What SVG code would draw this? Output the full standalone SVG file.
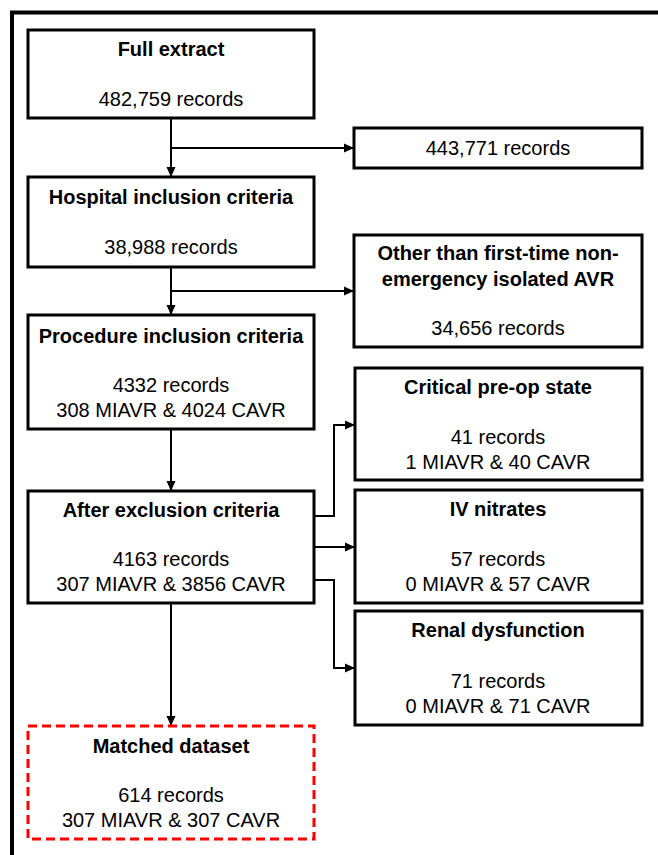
<svg xmlns="http://www.w3.org/2000/svg" width="658" height="855" viewBox="0 0 658 855">
<defs>
<style>
.box{fill:#fff;stroke:#000;stroke-width:3}
.dbox{fill:#fff;stroke:#ff0000;stroke-width:3;stroke-dasharray:9 5}
.t{font-family:"Liberation Sans",Arial,sans-serif;font-size:20px;font-weight:bold;text-anchor:middle;fill:#000}
.r{font-family:"Liberation Sans",Arial,sans-serif;font-size:20px;text-anchor:middle;fill:#000}
.c{fill:none;stroke:#000;stroke-width:2}
</style>
<marker id="ah" viewBox="0 0 10 10" refX="10" refY="5" markerWidth="10" markerHeight="10" markerUnits="userSpaceOnUse" orient="auto">
<path d="M0,0.5 L10,5 L0,9.5 Z" fill="#000"/>
</marker>
</defs>
<rect width="658" height="855" fill="#fff"/>
<path d="M12,855 V12.5 H658" fill="none" stroke="#000" stroke-width="4"/>
<g id="connectors">
<path class="c" d="M171,118 V177" marker-end="url(#ah)"/>
<path class="c" d="M171,148 H354" marker-end="url(#ah)"/>
<path class="c" d="M171,267 V315" marker-end="url(#ah)"/>
<path class="c" d="M171,291 H354" marker-end="url(#ah)"/>
<path class="c" d="M171,429 V491" marker-end="url(#ah)"/>
<path class="c" d="M314,516 H334 V425 H355" marker-end="url(#ah)"/>
<path class="c" d="M314,547 H355" marker-end="url(#ah)"/>
<path class="c" d="M314,580 H334 V668 H355" marker-end="url(#ah)"/>
<path class="c" d="M171,603 V726" marker-end="url(#ah)"/>
</g>
<g id="full-extract">
<rect class="box" x="28" y="30" width="286" height="88"/>
<text class="t" x="171" y="56">Full extract</text>
<text class="r" x="171" y="106">482,759 records</text>
</g>
<g id="excluded-443771">
<rect class="box" x="354" y="128" width="288" height="40"/>
<text class="r" x="498" y="155">443,771 records</text>
</g>
<g id="hospital">
<rect class="box" x="28" y="177" width="286" height="90"/>
<text class="t" x="171" y="204">Hospital inclusion criteria</text>
<text class="r" x="171" y="254">38,988 records</text>
</g>
<g id="other-than">
<rect class="box" x="354" y="235" width="288" height="112"/>
<text class="t" x="498" y="260">Other than first-time non-</text>
<text class="t" x="498" y="286">emergency isolated AVR</text>
<text class="r" x="498" y="335">34,656 records</text>
</g>
<g id="procedure">
<rect class="box" x="28" y="315" width="286" height="114"/>
<text class="t" x="171" y="343">Procedure inclusion criteria</text>
<text class="r" x="171" y="392">4332 records</text>
<text class="r" x="171" y="417">308 MIAVR &amp; 4024 CAVR</text>
</g>
<g id="critical">
<rect class="box" x="355" y="368" width="287" height="112"/>
<text class="t" x="498" y="394">Critical pre-op state</text>
<text class="r" x="498" y="444">41 records</text>
<text class="r" x="498" y="469">1 MIAVR &amp; 40 CAVR</text>
</g>
<g id="after-exclusion">
<rect class="box" x="28" y="491" width="286" height="112"/>
<text class="t" x="171" y="517">After exclusion criteria</text>
<text class="r" x="171" y="566">4163 records</text>
<text class="r" x="171" y="591">307 MIAVR &amp; 3856 CAVR</text>
</g>
<g id="iv-nitrates">
<rect class="box" x="355" y="490" width="287" height="113"/>
<text class="t" x="498" y="516">IV nitrates</text>
<text class="r" x="498" y="566">57 records</text>
<text class="r" x="498" y="591">0 MIAVR &amp; 57 CAVR</text>
</g>
<g id="renal">
<rect class="box" x="355" y="611" width="287" height="114"/>
<text class="t" x="498" y="637">Renal dysfunction</text>
<text class="r" x="498" y="688">71 records</text>
<text class="r" x="498" y="713">0 MIAVR &amp; 71 CAVR</text>
</g>
<g id="matched">
<rect class="dbox" x="28" y="726" width="286" height="113"/>
<text class="t" x="171" y="753">Matched dataset</text>
<text class="r" x="171" y="802">614 records</text>
<text class="r" x="171" y="827">307 MIAVR &amp; 307 CAVR</text>
</g>
</svg>
